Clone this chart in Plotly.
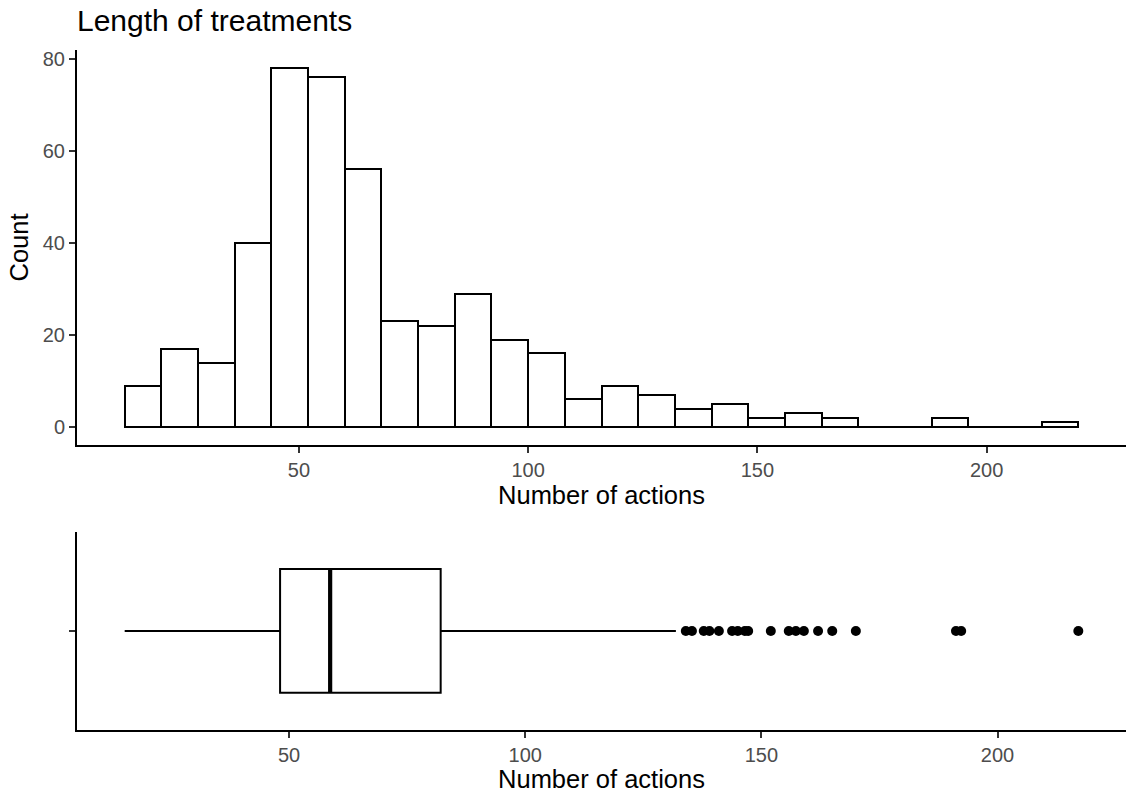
import plotly.graph_objects as go

# ---------------- data ----------------
bin_start = 12
bin_width = 8
counts = [9, 17, 14, 40, 78, 76, 56, 23, 22, 29, 19, 16, 6, 9, 7, 4, 5, 2, 3, 2, 0, 0, 2, 0, 0, 1]

box_min = 15.2
box_q1 = 48.1
box_median = 58.7
box_q3 = 82.1
box_upper = 131.9
outliers = [134.0, 135.3, 137.8, 139.0, 141.0, 143.8, 145.0, 146.5, 147.2, 152.0,
            155.8, 157.3, 159.0, 162.0, 165.0, 170.0, 191.2, 192.3, 217.1]

title_text = "Length of treatments"
x_title = "Number of actions"
y_title = "Count"
x_ticks = [50, 100, 150, 200]
y_ticks = [0, 20, 40, 60, 80]

# ---------------- figure ----------------
edges = [bin_start + bin_width * i for i in range(len(counts) + 1)]
centers = [bin_start + bin_width * (i + 0.5) for i in range(len(counts))]

FONT = "Liberation Sans, Arial, Helvetica, sans-serif"
TICKCOL = "#4D4D4D"
box_w = 0.75

fig = go.Figure()

# zero baseline (so empty bins show a flat edge like ggplot)
fig.add_trace(go.Scatter(x=[edges[0], edges[-1]], y=[0, 0], mode="lines",
                         line=dict(color="black", width=2),
                         xaxis="x", yaxis="y", showlegend=False, hoverinfo="skip"))
fig.add_trace(go.Bar(x=centers, y=counts, width=[bin_width] * len(counts),
                     marker=dict(color="white", line=dict(color="black", width=2)),
                     xaxis="x", yaxis="y", showlegend=False))

fig.add_trace(go.Box(y=[1], q1=[box_q1], median=[box_median], q3=[box_q3],
                     lowerfence=[box_min], upperfence=[box_upper],
                     orientation="h", width=box_w, whiskerwidth=0,
                     fillcolor="white", line=dict(color="black", width=2),
                     boxpoints=False, xaxis="x2", yaxis="y2", showlegend=False))
fig.add_trace(go.Scatter(x=[box_median, box_median], y=[1 - box_w / 2, 1 + box_w / 2],
                         mode="lines", line=dict(color="black", width=4.2),
                         xaxis="x2", yaxis="y2", showlegend=False, hoverinfo="skip"))
fig.add_trace(go.Scatter(x=outliers, y=[1] * len(outliers), mode="markers",
                         marker=dict(color="black", size=10),
                         xaxis="x2", yaxis="y2", showlegend=False))

# ranges with ggplot-like 5% expansion
span1 = edges[-1] - edges[0]
xr1 = [edges[0] - 0.05 * span1, edges[-1] + 0.05 * span1]
ymax = max(counts)
yr1 = [-0.05 * ymax, ymax * 1.05]
lo2, hi2 = min([box_min] + outliers), max([box_upper] + outliers)
span2 = hi2 - lo2
xr2 = [lo2 - 0.05 * span2, hi2 + 0.05 * span2]

W, H = 1134, 793
ml, mr, mt, mb = 77, 8, 50, 793 - 730
ph = H - mt - mb
top_dom = [(730 - 445) / ph, 1]
bot_dom = [0, (730 - 532) / ph]

axis_common = dict(showline=True, linecolor="black", linewidth=2, ticks="outside",
                   ticklen=6, tickwidth=2, tickcolor="#333333", showgrid=False,
                   zeroline=False, tickfont=dict(family=FONT, size=20, color=TICKCOL),
                   mirror=False, automargin=False)
tfont = dict(family=FONT, size=25.5, color="black")

fig.update_layout(
    width=W, height=H,
    margin=dict(l=ml, r=mr, t=mt, b=mb),
    plot_bgcolor="white", paper_bgcolor="white",
    font=dict(family=FONT, color="black"),
    title=dict(text=title_text, x=ml / W, xref="container", xanchor="left",
               y=1 - 20 / H, yref="container", yanchor="middle",
               font=dict(family=FONT, size=30, color="black")),
    bargap=0,
    xaxis=dict(domain=[0, 1], anchor="y", range=xr1, tickvals=x_ticks,
               title=dict(text=x_title, standoff=2, font=tfont), **axis_common),
    yaxis=dict(domain=top_dom, anchor="x", range=yr1, tickvals=y_ticks,
               title=dict(text=y_title, standoff=7, font=tfont), **axis_common),
    xaxis2=dict(domain=[0, 1], anchor="y2", range=xr2, tickvals=x_ticks,
                title=dict(text=x_title, standoff=0, font=tfont), **axis_common),
    yaxis2=dict(domain=bot_dom, anchor="x2", range=[0.4, 1.6], tickvals=[1], ticktext=[""],
                **axis_common),
)

fig.write_html("out.html",
               config={"displayModeBar": False},
               post_script="document.body.style.margin='0';document.body.style.overflow='hidden';")
